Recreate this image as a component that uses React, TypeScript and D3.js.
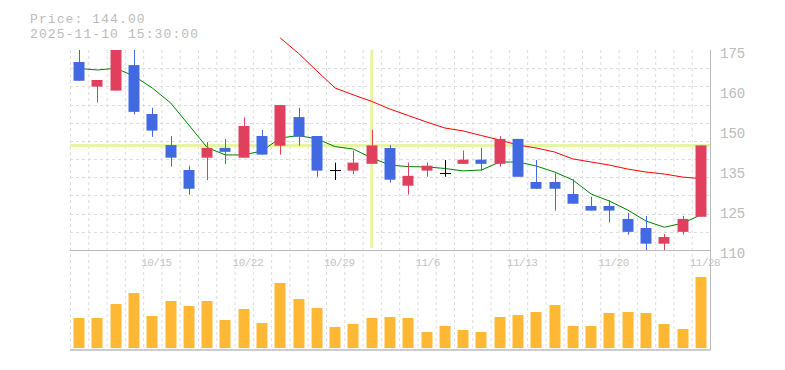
import React from "react";
import * as d3 from "d3";

// trading days shown on the chart
const dates = [
  "10/8", "10/9", "10/10", "10/14", "10/15", "10/16", "10/17", "10/20", "10/21", "10/22",
  "10/23", "10/24", "10/27", "10/28", "10/29", "10/30", "10/31", "11/4", "11/5", "11/6",
  "11/7", "11/10", "11/11", "11/12", "11/13", "11/14", "11/17", "11/18", "11/19", "11/20",
  "11/21", "11/25", "11/26", "11/27", "11/28"
];

const opens = [
  171.1, 163.1, 161.8, 170.1, 154.2, 144.1, 136.0, 140.0, 143.2, 140.0,
  147.05, 143.9, 153.2, 147.05, 136.0, 135.8, 138.0, 143.15, 130.9, 135.8,
  135.1, 138.0, 139.35, 138.0, 146.1, 132.1, 132.1, 128.2, 124.3, 124.3,
  120.1, 117.15, 112.05, 115.9, 120.8
];
const highs = [
  175.0, 165.25, 175.0, 175.0, 156.2, 147.05, 137.4, 145.1, 146.1, 153.1,
  149.0, 157.1, 156.2, 147.05, 138.4, 142.3, 149.1, 144.1, 138.4, 138.4,
  139.25, 142.3, 143.2, 147.05, 146.1, 139.25, 134.9, 133.0, 127.3, 126.25,
  122.0, 121.05, 115.2, 121.05, 144.0
];
const lows = [
  165.0, 157.9, 161.8, 154.1, 146.8, 137.1, 128.0, 132.75, 138.0, 140.0,
  141.0, 141.0, 143.9, 133.8, 132.75, 134.7, 138.0, 131.9, 128.0, 133.8,
  133.8, 138.0, 135.8, 137.1, 133.8, 129.9, 122.8, 125.05, 122.8, 118.9,
  115.0, 110.0, 110.0, 115.0, 120.8
];
const closes = [
  165.0, 165.25, 175.0, 154.9, 148.8, 140.0, 129.9, 143.2, 141.9, 150.3,
  141.0, 157.1, 146.8, 135.8, 136.0, 138.4, 144.0, 132.85, 134.1, 137.4,
  135.1, 139.35, 138.0, 146.1, 133.8, 129.9, 129.9, 125.05, 122.8, 122.8,
  115.9, 112.05, 114.2, 120.1, 144.0
];
const volumes = [
  30, 30, 44, 55, 32, 47, 42, 47, 28, 39,
  25, 65, 49, 40, 21, 24, 30, 31, 30, 16,
  22, 18, 16, 31, 33, 36, 43, 22, 22, 35,
  36, 35, 24, 19, 71
];
// short moving average (green)
const maShort = [
  169.0, 168.5, 169.05, 166.55, 162.65, 157.8, 150.6, 143.3, 140.9, 140.9,
  142.2, 146.4, 147.2, 146.1, 143.6, 142.8, 139.9, 137.6, 137.1, 137.0,
  136.5, 135.7, 136.0, 138.6, 138.6, 137.3, 135.35, 132.75, 128.2, 125.9,
  123.0, 119.4, 117.4, 118.7, 121.4
];
// long moving average (red), starts at 10/24
const maLong = [
  null, null, null, null, null, null, null, null, null, null,
  null, 178.9, 173.9, 168.2, 162.65, 160.4, 158.3, 155.8, 153.7, 151.6,
  149.65, 148.7, 147.2, 145.75, 144.1, 143.15, 141.85, 139.6, 138.6, 137.6,
  136.3, 135.35, 134.7, 133.7, 133.2
];

const yTickLabels = ["110", "125", "135", "150", "160", "175"];
const xTickLabels = ["10/15", "10/22", "10/29", "11/6", "11/13", "11/20", "11/28"];
const crossDate = "10/31";
const crossPrice = 144;
const headerLines = ["Price: 144.00", "2025-11-10 15:30:00"];

const W = 785;
const H = 370;
const left = 70;
const right = 710;
const priceTop = 50;
const priceBottom = 250;
const volBottom = 348;

const UP = "#e0405e";
const DOWN = "#4169e1";
const GRID = "#dddddd";
const AXIS = "#bbbbbb";
const MONO = "'Liberation Mono', 'DejaVu Sans Mono', monospace";

export default function App() {
  const x = d3.scaleBand<string>().domain(dates).range([left, right]).padding(0);
  const bw = x.bandwidth();
  const cx = (d: string) => (x(d) as number) + bw / 2;
  const bodyW = bw * 0.6;

  const y = d3.scaleLinear().domain([110, 175]).range([priceBottom, priceTop]);
  const yVol = d3
    .scaleLinear()
    .domain([0, (d3.max(volumes) as number) * 1.38])
    .range([volBottom, priceBottom]);

  const hGrid = d3.range(11).map(j => y(110 + (j * 65) / 11));
  const yTicks = yTickLabels.map((t, i) => ({ t, v: 110 + (i * 65) / 5 }));

  const lineGen = d3
    .line<number | null>()
    .defined(d => d != null)
    .x((d, i) => cx(dates[i]))
    .y(d => y(d as number));

  return (
    <svg
      width={W}
      height={H}
      style={{ position: "absolute", left: 0, top: 0, background: "#fff" }}
    >
      {/* grid */}
      {dates.map(d => (
        <line
          key={"vg" + d}
          x1={(x(d) as number) + 0.5}
          x2={(x(d) as number) + 0.5}
          y1={priceTop}
          y2={350}
          stroke={GRID}
          strokeDasharray="3,3"
        />
      ))}
      {hGrid.map((gy, j) => (
        <line
          key={"hg" + j}
          x1={left}
          x2={right}
          y1={Math.round(gy) + 0.5}
          y2={Math.round(gy) + 0.5}
          stroke={GRID}
          strokeDasharray="3,3"
        />
      ))}
      {/* frame */}
      <line x1={left} x2={right} y1={priceBottom + 0.5} y2={priceBottom + 0.5} stroke={AXIS} />
      <line x1={left} x2={right} y1={350} y2={350} stroke={AXIS} strokeWidth={1.5} />
      <line x1={right + 0.5} x2={right + 0.5} y1={priceTop} y2={350.5} stroke={AXIS} />

      {/* crosshair */}
      <line x1={left} x2={right} y1={y(crossPrice)} y2={y(crossPrice)} stroke="#e6f5a5" strokeWidth={3} />
      <line x1={cx(crossDate)} x2={cx(crossDate)} y1={priceTop} y2={priceBottom - 2} stroke="#e6f5a5" strokeWidth={3} />

      {/* moving averages */}
      <path d={lineGen(maShort) || ""} fill="none" stroke="#008000" strokeWidth={1} />
      <path d={lineGen(maLong) || ""} fill="none" stroke="#ff0000" strokeWidth={1} />

      {/* candles */}
      {dates.map((d, i) => {
        const o = opens[i];
        const c = closes[i];
        const px = Math.round(cx(d)) + 0.5;
        if (o === c) {
          return (
            <g key={"c" + d} stroke="#000">
              <line x1={px} x2={px} y1={y(highs[i])} y2={y(lows[i])} />
              <line x1={px - bodyW / 2} x2={px + bodyW / 2} y1={Math.round(y(c)) + 0.5} y2={Math.round(y(c)) + 0.5} />
            </g>
          );
        }
        const col = c > o ? UP : DOWN;
        const top = y(Math.max(o, c));
        const bot = y(Math.min(o, c));
        return (
          <g key={"c" + d}>
            <line x1={px} x2={px} y1={y(highs[i])} y2={y(lows[i])} stroke={col} />
            <rect x={px - 0.5 - bodyW / 2} y={top} width={bodyW} height={bot - top} fill={col} />
          </g>
        );
      })}

      {/* volume */}
      {dates.map((d, i) => (
        <rect
          key={"v" + d}
          x={Math.round(cx(d)) - bodyW / 2}
          y={yVol(volumes[i])}
          width={bodyW}
          height={volBottom - yVol(volumes[i])}
          fill="#ffb833"
        />
      ))}

      {/* y labels */}
      {yTicks.map(({ t, v }) => (
        <text key={"yt" + t} x={720} y={y(v) + 8} fontFamily={MONO} fontSize={14} fill={AXIS}>
          {t}
        </text>
      ))}

      {/* x labels */}
      {xTickLabels.map(t => (
        <text
          key={"xt" + t}
          x={(x(t) as number) - 2}
          y={266}
          fontFamily={MONO}
          fontSize={11}
          letterSpacing={-0.5}
          fill="#c4c4c4"
        >
          {t}
        </text>
      ))}

      {/* header */}
      {headerLines.map((t, i) => (
        <text
          key={"h" + i}
          x={30}
          y={22.5 + i * 15}
          fontFamily={MONO}
          fontSize={13}
          letterSpacing={1.1}
          fill={AXIS}
        >
          {t}
        </text>
      ))}
    </svg>
  );
}
